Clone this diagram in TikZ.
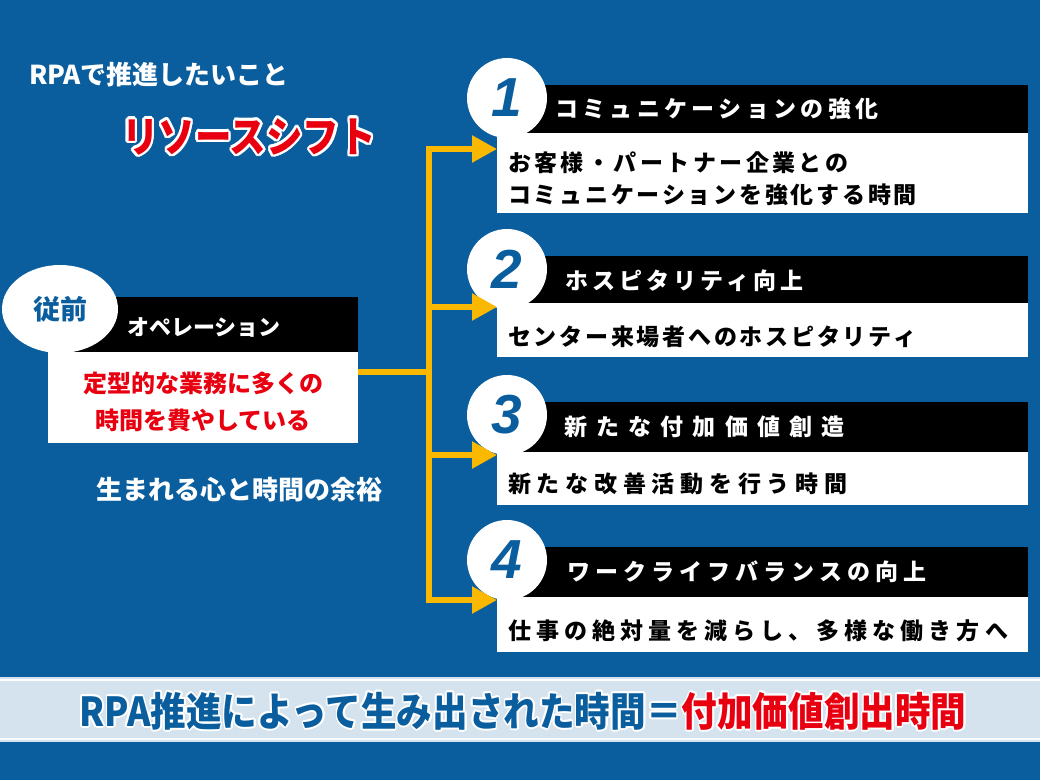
\documentclass[tikz,border=0pt]{standalone}
\usepackage{graphicx}
\usepackage{fontspec}
\setmainfont{Noto Sans CJK JP}
\newfontfamily\numfont{Liberation Sans}
\usepackage{contour}
\usetikzlibrary{arrows.meta,shapes.geometric}
\definecolor{bgblue}{RGB}{10,94,158}
\definecolor{ygold}{RGB}{250,184,0}
\definecolor{redtxt}{RGB}{232,0,16}
\definecolor{bandfill}{RGB}{212,227,238}
\newcommand{\ls}[1]{\addfontfeatures{LetterSpace=#1}}
\contourlength{2pt}
\begin{document}
\begin{tikzpicture}[x=1pt,y=-1pt,inner sep=0pt,outer sep=0pt,
titlebar/.style={fill=black,rectangle,anchor=north west,minimum width=531pt},
bodybox/.style={fill=white,rectangle,anchor=north west,minimum width=531pt},
numdisc/.style={fill=white,circle,minimum size=80pt,text=bgblue,font=\numfont\bfseries\itshape\fontsize{55}{55}\selectfont},
bartext/.style={anchor=west,text=white,font=\bfseries\fontsize{23}{26}\selectfont},
bodytext/.style={anchor=west,text=black,font=\bfseries\fontsize{23}{26}\selectfont},
whitetext/.style={text=white,font=\bfseries\fontsize{26}{29}\selectfont},
redtext/.style={text=redtxt,font=\bfseries\fontsize{24}{27}\selectfont},
yline/.style={draw=ygold,line width=5.5pt},
yarrow/.style={yline,-{Triangle[length=25pt,width=26pt]}}]
\useasboundingbox (0,0) rectangle (1040,780);
\fill[bgblue] (0,0) rectangle (1040,780);
% bottom band
\fill[bandfill] (0,677) rectangle (1040,742);
\draw[white,line width=2pt] (0,680) -- (1040,680);
\draw[white!85!bandfill,line width=1.5pt] (0,739) -- (1040,739);
\draw (523,712) node (summary) {\bfseries\fontsize{40}{44}\selectfont\contourlength{1.8pt}%
\scalebox{0.89}[1]{{\color{bgblue}\contour{white}{RPA推進によって生み出された時間＝}}{\color{redtxt}\contour{white}{付加価値創出時間}}}};
% heading
\draw (29,75) node[whitetext,anchor=west] (aim) {RPAで推進したいこと};
\draw (249,138) node (shift) {\bfseries\fontsize{42}{45}\selectfont\contourlength{2.6pt}%
\scalebox{0.87}[1]{\color{redtxt}\contour{white}{リソースシフト}}};
% before
\draw (48,297) node[titlebar,minimum width=310pt,minimum height=55pt] (opbar) {};
\draw (48,352) node[bodybox,minimum width=310pt,minimum height=91pt] (opbox) {};
\draw (60,309) node[fill=white,ellipse,minimum width=116pt,minimum height=88pt,text=bgblue,font=\bfseries\fontsize{27}{30}\selectfont] (prevtag) {従前};
\draw (127,327) node[bartext,font=\bfseries\fontsize{22}{25}\selectfont] (optitle) {オペレーション};
\draw (203,383) node[redtext] (opline1) {定型的な業務に多くの};
\draw (203,420) node[redtext] (opline2) {時間を費やしている};
\draw (239,490) node[whitetext] (yoyu) {生まれる心と時間の余裕};
% item 1
\draw (497,85) node[titlebar,minimum height=48pt] (bar1) {};
\draw (497,133) node[bodybox,minimum height=80pt] (box1) {};
\draw (507,98) node[numdisc] (num1) {1};
\draw (555,109) node[bartext] (title1) {\ls{19}コミュニケーションの強化};
\draw (508,163) node[bodytext] (body1a) {\ls{15}お客様・パートナー企業との};
\draw (508,195) node[bodytext] (body1b) {\ls{12}コミュニケーションを強化する時間};
% item 2
\draw (497,256) node[titlebar,minimum height=47pt] (bar2) {};
\draw (497,303) node[bodybox,minimum height=54pt] (box2) {};
\draw (507,269) node[numdisc] (num2) {2};
\draw (565,281) node[bartext] (title2) {\ls{18}ホスピタリティ向上};
\draw (508,337) node[bodytext] (body2) {\ls{12}センター来場者へのホスピタリティ};
% item 3
\draw (497,402) node[titlebar,minimum height=50pt] (bar3) {};
\draw (497,452) node[bodybox,minimum height=53pt] (box3) {};
\draw (507,415) node[numdisc] (num3) {3};
\draw (564,427) node[bartext] (title3) {\ls{40}新たな付加価値創造};
\draw (508,484) node[bodytext] (body3) {\ls{25}新たな改善活動を行う時間};
% item 4
\draw (497,547) node[titlebar,minimum height=50pt] (bar4) {};
\draw (497,597) node[bodybox,minimum height=55pt] (box4) {};
\draw (507,560) node[numdisc] (num4) {4};
\draw (567,572) node[bartext] (title4) {\ls{22}ワークライフバランスの向上};
\draw (508,631) node[bodytext] (body4) {\ls{22}仕事の絶対量を減らし、多様な働き方へ};
% yellow connectors
\coordinate (junc) at (429,372);
\coordinate (in1) at (box1.west |- 0,149);
\coordinate (in2) at (box2.west |- 0,307);
\coordinate (in3) at (box3.west |- 0,455);
\coordinate (in4) at (box4.west |- 0,600);
\draw[yline] (opbox.east |- junc) -- (junc);
\draw[yarrow] (junc) |- (in1);
\draw[yarrow] (junc) |- (in2);
\draw[yarrow] (junc) |- (in3);
\draw[yarrow] (junc) |- (in4);
\end{tikzpicture}
\end{document}
